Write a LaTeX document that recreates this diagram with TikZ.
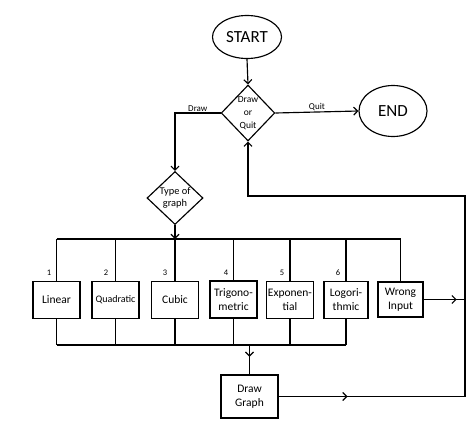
\documentclass[tikz,border=0pt]{standalone}
\usepackage{fontspec}
\setmainfont{Carlito}
\usetikzlibrary{shapes.geometric,arrows.meta,decorations.markings,calc}
\tikzset{midtip/.style={postaction={decorate}, decoration={markings, mark=at position #1 with {\arrow{Straight Barb[length=4pt,width=8pt]}}}}}

\begin{document}
\begin{tikzpicture}[x=1pt,y=-1pt,line width=1.15pt]
       \tikzstyle{term} = [ellipse, draw, inner sep=0pt, font=\fontsize{17}{17}\selectfont];
       \tikzstyle{choice} = [diamond, draw, inner sep=0pt, align=center];
       \tikzstyle{box} = [rectangle, draw, minimum width=47pt, minimum height=37pt, inner sep=1pt, align=center, font=\fontsize{11.5}{14}\selectfont];
       \tikzstyle{small} = [font=\fontsize{9}{9}\selectfont, inner sep=1pt];
       \tikzstyle{num} = [font=\fontsize{8.5}{8.5}\selectfont, inner sep=0pt];
       \tikzstyle{tip} = [-{Straight Barb[length=4pt,width=8pt]}];
       \useasboundingbox (0,0) rectangle (474,429);

       % terminals and decisions
       \node[term, minimum width=69pt, minimum height=43pt] (start) at (247,37) {START};
       \node[term, minimum width=68pt, minimum height=51pt] (end) at (393,111) {END};
       \node[choice, minimum width=52pt, minimum height=56pt, font=\fontsize{9.5}{13}\selectfont] (drawquit) at (248,113) {Draw\\or\\Quit};
       \node[choice, minimum width=56pt, minimum height=53pt, font=\fontsize{10.4}{12}\selectfont] (type) at (175,198) {Type of\\graph};

       % graph types
       \node[box] (linear) at (56.5,300) {Linear};
       \node[box, font=\fontsize{10}{12}\selectfont] (quadratic) at (115.5,300) {Quadratic};
       \node[box] (cubic) at (175,300) {Cubic};
       \node[box] (trigo) at (233.5,299.5) {Trigono-\\metric};
       \node[box] (expo) at (290,300) {Exponen-\\tial};
       \node[box, minimum width=44pt] (logo) at (346,300) {Logori-\\thmic};
       \node[box, minimum width=45pt, minimum height=35pt] (wrong) at (400.5,299.5) {Wrong\\Input};
       \node[box, minimum width=57pt, minimum height=43pt] (drawgraph) at (249.5,396.5) {Draw\\Graph};

       \node[num] (n1) at (49,273) {1};
       \node[num] (n2) at (106,273) {2};
       \node[num] (n3) at (165,273) {3};
       \node[num] (n4) at (226,273) {4};
       \node[num] (n5) at (282,273) {5};
       \node[num] (n6) at (338,273) {6};

       \coordinate (topleft) at (56.5,239);
       \coordinate (topright) at (400.5,239);
       \coordinate (botleft) at (56.5,345);
       \coordinate (botright) at (346,345);
       \coordinate (retbot) at (465,396.5);
       \coordinate (rettop) at (465,196);

       \draw[tip] (start.south) -- (drawquit.north);
       \draw[tip] (drawquit.west) -| node[small, above, pos=0.25] (drawlbl) {Draw} (type.north);
       \draw[tip] (drawquit.east) -- node[small, above] (quitlbl) {Quit} (end.west);
       \draw[tip] (type.south) -- (type.south |- topleft);

       % top bus
       \draw[-] (topleft) -- (topright);
       \draw[-] (topleft) -- (linear.north);
       \draw[-] (quadratic.north |- topleft) -- (quadratic.north);
       \draw[-] (cubic.north |- topleft) -- (cubic.north);
       \draw[-] (trigo.north |- topleft) -- (trigo.north);
       \draw[-] (expo.north |- topleft) -- (expo.north);
       \draw[-] (logo.north |- topleft) -- (logo.north);
       \draw[-] (topright) -- (wrong.north);

       % bottom bus
       \draw[-] (botleft) -- (botright);
       \draw[-] (linear.south) -- (botleft);
       \draw[-] (quadratic.south) -- (quadratic.south |- botleft);
       \draw[-] (cubic.south) -- (cubic.south |- botleft);
       \draw[-] (trigo.south) -- (trigo.south |- botleft);
       \draw[-] (expo.south) -- (expo.south |- botleft);
       \draw[-] (logo.south) -- (botright);
       \draw[midtip=0.4] (drawgraph.north |- botleft) -- (drawgraph.north);

       % back to the decision
       \draw[midtip=0.37] (drawgraph.east) -- (retbot);
       \draw[midtip=0.8] (wrong.east) -- (wrong.east -| retbot);
       \draw[tip] (retbot) -- (rettop) -| (drawquit.south);
     \end{tikzpicture}
\end{document}
